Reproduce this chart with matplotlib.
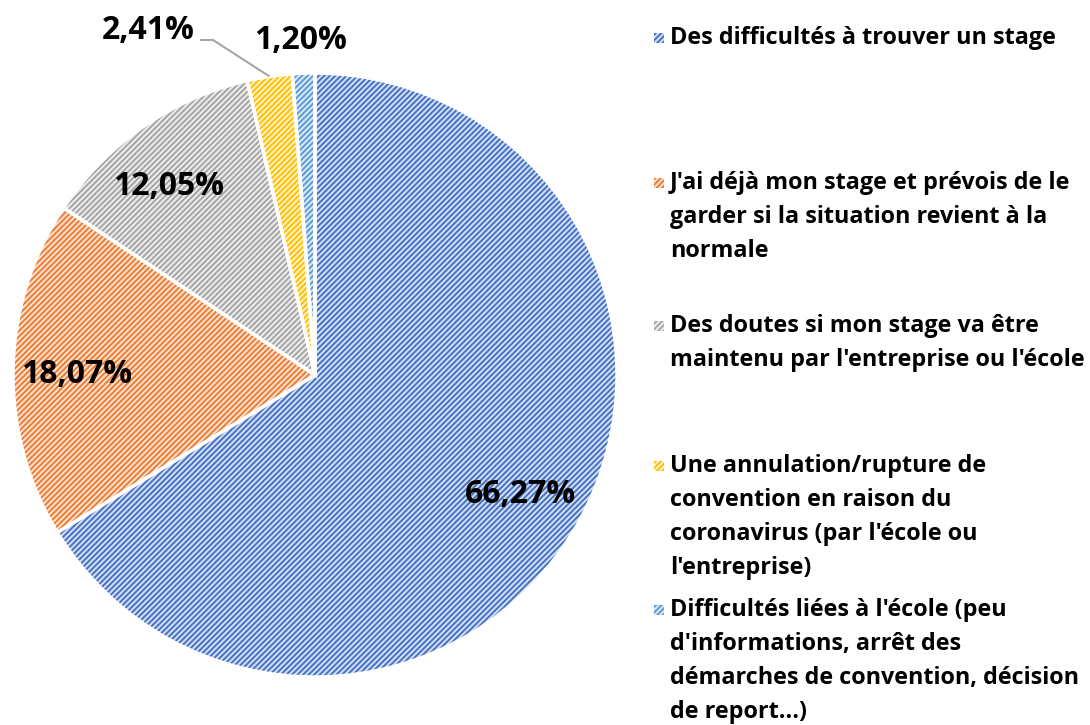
import numpy as np
import matplotlib
matplotlib.use("Agg")
import matplotlib.pyplot as plt
from matplotlib.patches import Rectangle

# Survey answers and their shares (percent)
categories = [
    "Des difficultés à trouver un stage",
    "J'ai déjà mon stage et prévois de le\ngarder si la situation revient à la\nnormale",
    "Des doutes si mon stage va être\nmaintenu par l'entreprise ou l'école",
    "Une annulation/rupture de\nconvention en raison du\ncoronavirus (par l'école ou\nl'entreprise)",
    "Difficultés liées à l'école (peu\nd'informations, arrêt des\ndémarches de convention, décision\nde report...)",
]
shares = [66.27, 18.07, 12.05, 2.41, 1.20]
pct_labels = ["66,27%", "18,07%", "12,05%", "2,41%", "1,20%"]

line_colors = ["#4472C4", "#ED7D31", "#A5A5A5", "#FFC000", "#5B9BD5"]
fill_colors = ["#D6DFF2", "#FBE2D3", "#EDEDED", "#FFF1CA", "#DCE9F6"]

W, H = 1090, 725
plt.rcParams["font.family"] = ["Open Sans", "DejaVu Sans"]
plt.rcParams["hatch.linewidth"] = 1.4

fig = plt.figure(figsize=(W / 100, H / 100), dpi=100)
ax = fig.add_axes([0, 0, 1, 1])

cx, cy, R = 315, H - 375, 302

# Hatched wedges (hatch colour comes from the edge colour)
wedges, _ = ax.pie(shares, startangle=90, counterclock=False, center=(cx, cy),
                   radius=R, colors=fill_colors, frame=True,
                   wedgeprops=dict(linewidth=0))
for w, lc in zip(wedges, line_colors):
    w.set_hatch("//////")
    w.set_edgecolor(lc)
    w.set_linewidth(0)

# White separators on top
ax.pie(shares, startangle=90, counterclock=False, center=(cx, cy), radius=R,
       colors=["none"] * len(shares), frame=True,
       wedgeprops=dict(linewidth=2.5, edgecolor="white", fill=False))
ax.set_xlim(0, W)
ax.set_ylim(0, H)
ax.set_aspect("equal")
ax.axis("off")

# Percentage labels inside the three large slices
label_font = dict(fontsize=23, fontweight="bold", color="black",
                  ha="center", va="center")
label_dist = [0.78, 0.79, 0.80]
label_rot = [0, 0, 2.5]
for i in range(3):
    w = wedges[i]
    mid = np.deg2rad((w.theta1 + w.theta2) / 2 + label_rot[i])
    r = label_dist[i] * R
    ax.text(cx + r * np.cos(mid), cy + r * np.sin(mid) - 4, pct_labels[i],
            **label_font)

# Small slices: labels outside, with a leader line for the yellow one
ax.text(148, H - 30, pct_labels[3], **label_font)
ax.text(300, H - 40, pct_labels[4], **label_font)
w = wedges[3]
mid = np.deg2rad((w.theta1 + w.theta2) / 2)
ex, ey = cx + R * np.cos(mid), cy + R * np.sin(mid)
ax.plot([200, 213, ex], [H - 40, H - 40, ey], color="#A6A6A6", lw=1.5,
        solid_capstyle="butt")

# Legend: hatched square key and one text row per line
legend_y = [38, 183, 326, 466, 610]
line_h = 34
for i, (txt, y) in enumerate(zip(categories, legend_y)):
    ax.add_patch(Rectangle((654, H - y - 5), 10, 10, facecolor=fill_colors[i],
                           edgecolor=line_colors[i], hatch="//////", linewidth=0))
    for k, line in enumerate(txt.split("\n")):
        ax.text(670, H - y - k * line_h, line, fontsize=16.8, fontweight="bold",
                color="black", ha="left", va="center")

fig.savefig("out.png", dpi=100, facecolor="white")
